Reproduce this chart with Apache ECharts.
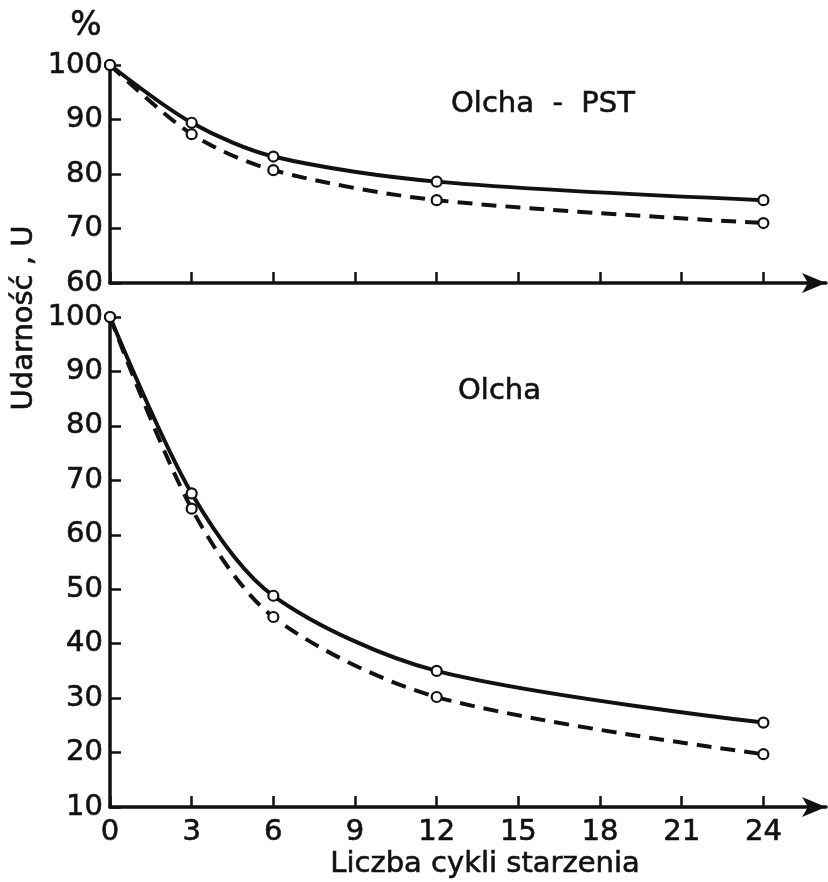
<!DOCTYPE html>
<html>
<head>
    <meta charset="utf-8">
    <title>Udarność</title>
    <script src="https://cdn.jsdelivr.net/npm/echarts@6/dist/echarts.min.js"></script>
</head>
<body style="margin:0;background:#fff">
    <div id="main" style="width:828px;height:882px;"></div>
    <script>
        // dane
        let cycles = [0, 3, 6, 12, 24];
        let xTicks = [0, 3, 6, 9, 12, 15, 18, 21, 24];
        let pstSolid = [100, 89.4, 83.2, 78.6, 75.2];
        let pstDashed = [100, 87.3, 80.7, 75.2, 71.0];
        let olchaSolid = [100, 67.6, 48.8, 35.0, 25.5];
        let olchaDashed = [100, 64.8, 44.9, 30.2, 19.7];

        const ink = '#111';
        const font = 'DejaVu Sans';
        const txt = { color: ink, fontFamily: font, fontSize: 29, textBorderColor: ink, textBorderWidth: 0.6 };

        function pairs(ys) {
            return cycles.map((c, i) => [c, ys[i]]);
        }

        function xAxis(idx, showLabels) {
            return {
                type: 'value', gridIndex: idx, min: 0, max: 26.3,
                axisLine: { lineStyle: { color: ink, width: 3.5 }, symbol: ['none', 'arrow'], symbolSize: [15, 24] },
                axisTick: { inside: true, length: 11, lineStyle: { color: ink, width: 2.5 }, customValues: xTicks },
                axisLabel: Object.assign({ show: showLabels, customValues: xTicks, margin: 11 }, txt),
                splitLine: { show: false }
            };
        }

        function yAxis(idx, min, max) {
            return {
                type: 'value', gridIndex: idx, min: min, max: max, interval: 10,
                axisLine: { show: true, lineStyle: { color: ink, width: 3.5 } },
                axisTick: { show: true, inside: true, length: 11, lineStyle: { color: ink, width: 2.5 } },
                axisLabel: Object.assign({ margin: 7 }, txt),
                splitLine: { show: false }
            };
        }

        function line(idx, ys, dashed) {
            return {
                type: 'line', xAxisIndex: idx, yAxisIndex: idx,
                data: pairs(ys), smooth: 0.3,
                symbol: 'circle', symbolSize: 10,
                itemStyle: { color: '#fff', borderColor: ink, borderWidth: 2.2 },
                lineStyle: { color: ink, width: 4, type: dashed ? [15, 9] : 'solid' },
                z: 3
            };
        }

        let myChart = echarts.init(document.getElementById('main'));
        let option = {
            animation: false,
            backgroundColor: '#fff',
            title: [
                { text: 'Olcha  -  PST', left: 446, top: 85, textStyle: Object.assign({ fontWeight: 'normal' }, txt) },
                { text: 'Olcha', left: 453, top: 372, textStyle: Object.assign({ fontWeight: 'normal' }, txt) }
            ],
            grid: [
                { left: 110, right: 2, top: 65, height: 218 },
                { left: 110, right: 2, top: 317, height: 490 }
            ],
            xAxis: [xAxis(0, false), xAxis(1, true)],
            yAxis: [yAxis(0, 60, 100), yAxis(1, 10, 100)],
            series: [
                line(0, pstSolid, false),
                line(0, pstDashed, true),
                line(1, olchaSolid, false),
                line(1, olchaDashed, true)
            ],
            graphic: [
                { type: 'text', left: 70, top: 10, style: { text: '%', fill: ink, font: '33px "DejaVu Sans"', stroke: ink, lineWidth: 0.6 } },
                {
                    type: 'text', x: 10, y: 318, rotation: Math.PI / 2,
                    style: { text: 'Udarność , U', fill: ink, font: '29px "DejaVu Sans"', align: 'center', verticalAlign: 'top', stroke: ink, lineWidth: 0.6 }
                },
                {
                    type: 'text', left: 330, top: 850,
                    style: { text: 'Liczba cykli starzenia', fill: ink, font: '29px "DejaVu Sans"', stroke: ink, lineWidth: 0.6 }
                }
            ]
        };
        myChart.setOption(option);
    </script>
</body>
</html>
